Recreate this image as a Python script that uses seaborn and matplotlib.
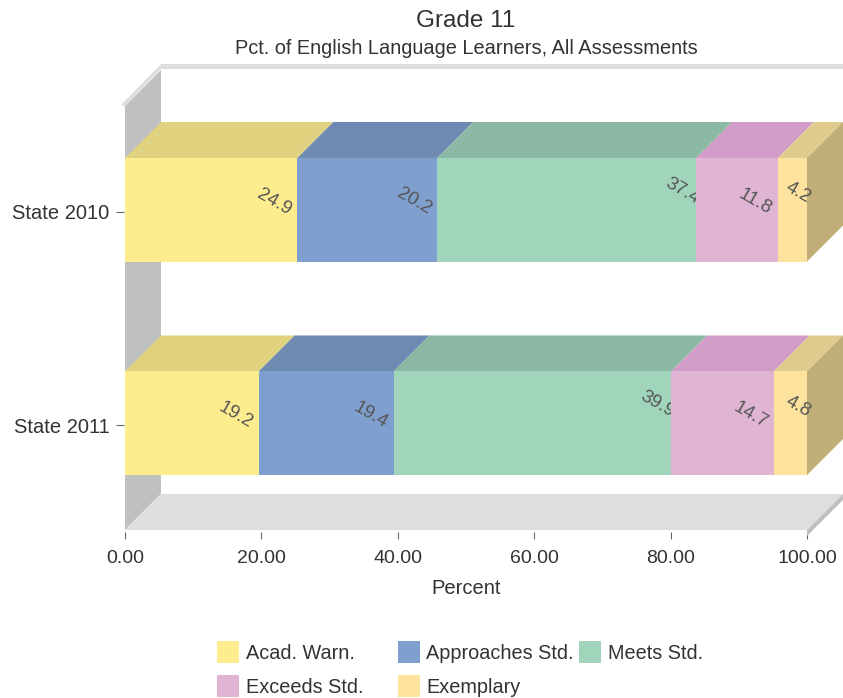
import matplotlib

matplotlib.use("Agg")

import matplotlib.pyplot as plt
import numpy as np
import seaborn as sns
from matplotlib.patches import Polygon, Rectangle

CATEGORIES = ["State 2010", "State 2011"]
LEVELS = ["Acad. Warn.", "Approaches Std.", "Meets Std.", "Exceeds Std.", "Exemplary"]
ACAD_WARN = [24.9, 19.2]
APPROACHES = [20.2, 19.4]
MEETS = [37.4, 39.9]
EXCEEDS = [11.8, 14.7]
EXEMPLARY = [4.2, 4.8]

FRONT = ["#FEED8F", "#7F9FCE", "#A0D5BB", "#E0B5D3", "#FDE39E"]
TOP = ["#E0D27F", "#6F8AB3", "#8BB9A3", "#D19DC8", "#DFCB8B"]
SIDE = "#BFAE75"
WALL = "#C0C0C0"
FLOOR = "#DEDEDE"
TEXT = "#333333"

W, H = 843, 698
LEFT, RIGHT, TOP_PX, BOTTOM = 125, 807, 103, 530
DEPTH = 36
BAR_W = 0.485

sns.set_theme(style="white")
plt.rcParams["font.family"] = ["Liberation Sans", "DejaVu Sans"]

fig = plt.figure(figsize=(W / 100, H / 100), dpi=100)
ax = fig.add_axes([LEFT / W, 1 - BOTTOM / H, (RIGHT - LEFT) / W, (BOTTOM - TOP_PX) / H])

values = np.array([ACAD_WARN, APPROACHES, MEETS, EXCEEDS, EXEMPLARY])
shares = values / values.sum(axis=0) * 100
starts = np.vstack([np.zeros(2), np.cumsum(shares, axis=0)[:-1]])

# pixel sizes turned into data units
px_x = 100 / (RIGHT - LEFT)
px_y = 2 / (BOTTOM - TOP_PX)
dx = DEPTH * px_x
dy = DEPTH * px_y


def poly(points, color, z):
    ax.add_patch(Polygon(points, closed=True, facecolor=color, edgecolor="none", clip_on=False, zorder=z))


# walls and floor
ymin, ymax = 1.5, -0.5
poly([(0, ymin), (dx, ymin - dy), (dx, ymax - dy + 3 * px_y), (0, ymax + 3 * px_y)], WALL, 1)
poly([(0, ymin), (100, ymin), (100 + dx, ymin - dy), (dx, ymin - dy)], FLOOR, 1)
poly([(100, ymin), (100 + dx, ymin - dy), (100 + dx, ymin - dy + 6 * px_y), (100, ymin + 6 * px_y)], WALL, 1)
poly(
    [
        (-4 * px_x, ymax + 2 * px_y),
        (dx, ymax - dy - 3 * px_y),
        (100 + dx, ymax - dy - 3 * px_y),
        (100 + dx, ymax - dy + 2 * px_y),
        (dx, ymax - dy + 2 * px_y),
        (0, ymax + 3 * px_y),
    ],
    FLOOR,
    1,
)

for i, level in enumerate(LEVELS):
    # stacked through left=, one call per level
    sns.barplot(
        x=shares[i],
        y=CATEGORIES,
        left=starts[i],
        color=FRONT[i],
        saturation=1,
        width=BAR_W,
        orient="y",
        linewidth=0,
        zorder=4 + i,
        ax=ax,
    )
    for j in range(len(CATEGORIES)):
        x0 = starts[i, j]
        x1 = x0 + shares[i, j]
        top = j - BAR_W / 2
        poly([(x0, top), (x1, top), (x1 + dx, top - dy), (x0 + dx, top - dy)], TOP[i], 3)
        # label sits near the segment end, the next segment can cut it off
        if shares[i, j] < 8:
            off_x, off_y = -9, -17
        elif shares[i, j] > 35:
            off_x, off_y = -14, -19
        else:
            off_x, off_y = -23, -8
        ax.text(
            x1 + off_x * px_x,
            j + off_y * px_y,
            f"{values[i, j]:.1f}",
            rotation=-30,
            rotation_mode="anchor",
            ha="center",
            va="center",
            fontsize=13.5,
            color="#555555",
            zorder=4.5 + i,
            clip_on=False,
        )

for j in range(len(CATEGORIES)):
    top, bot = j - BAR_W / 2, j + BAR_W / 2
    poly([(100, top), (100 + dx, top - dy), (100 + dx, bot - dy), (100, bot)], SIDE, 3)

ax.set_xlim(0, 100)
ax.set_ylim(ymin, ymax)
ax.set_xticks(np.arange(0, 101, 20))
ax.set_xticklabels([f"{t:.2f}" for t in np.arange(0, 101, 20)])
# ticks sit a little below the bar centres in the original
ax.set_yticks([j + 2 * px_y for j in range(len(CATEGORIES))])
ax.set_yticklabels(CATEGORIES)
ax.set_xlabel("Percent", fontsize=14.5, color=TEXT, labelpad=8.5)
ax.set_ylabel("")
ax.patch.set_visible(False)
sns.despine(ax=ax, left=True, bottom=True)
ax.spines["bottom"].set_position(("outward", 1.5))
ax.spines["left"].set_position(("outward", 1))
ax.tick_params(axis="x", length=5, width=0.8, color="#666666", pad=8, labelsize=14, labelcolor=TEXT, bottom=True)
ax.tick_params(axis="y", length=6, width=0.8, color="#666666", pad=4, labelsize=14.5, labelcolor=TEXT, left=True)

fig.text(466 / W, 1 - 21 / H, "Grade 11", ha="center", va="center", fontsize=17.5, color=TEXT)
fig.text(466 / W, 1 - 48 / H, "Pct. of English Language Learners, All Assessments", ha="center", va="center", fontsize=14.4, color=TEXT)

# legend laid out on a fixed grid like the original
for i, level in enumerate(LEVELS):
    col, row = i % 3, i // 3
    x = 217 + col * 181
    y = 641 + row * 34
    fig.add_artist(Rectangle((x / W, 1 - (y + 22) / H), 22 / W, 22 / H, transform=fig.transFigure, facecolor=FRONT[i], edgecolor="none"))
    fig.text((x + 28.5) / W, 1 - (y + 12.5) / H, level, ha="left", va="center", fontsize=14.3, color=TEXT)

fig.savefig("out.png", dpi=100)
